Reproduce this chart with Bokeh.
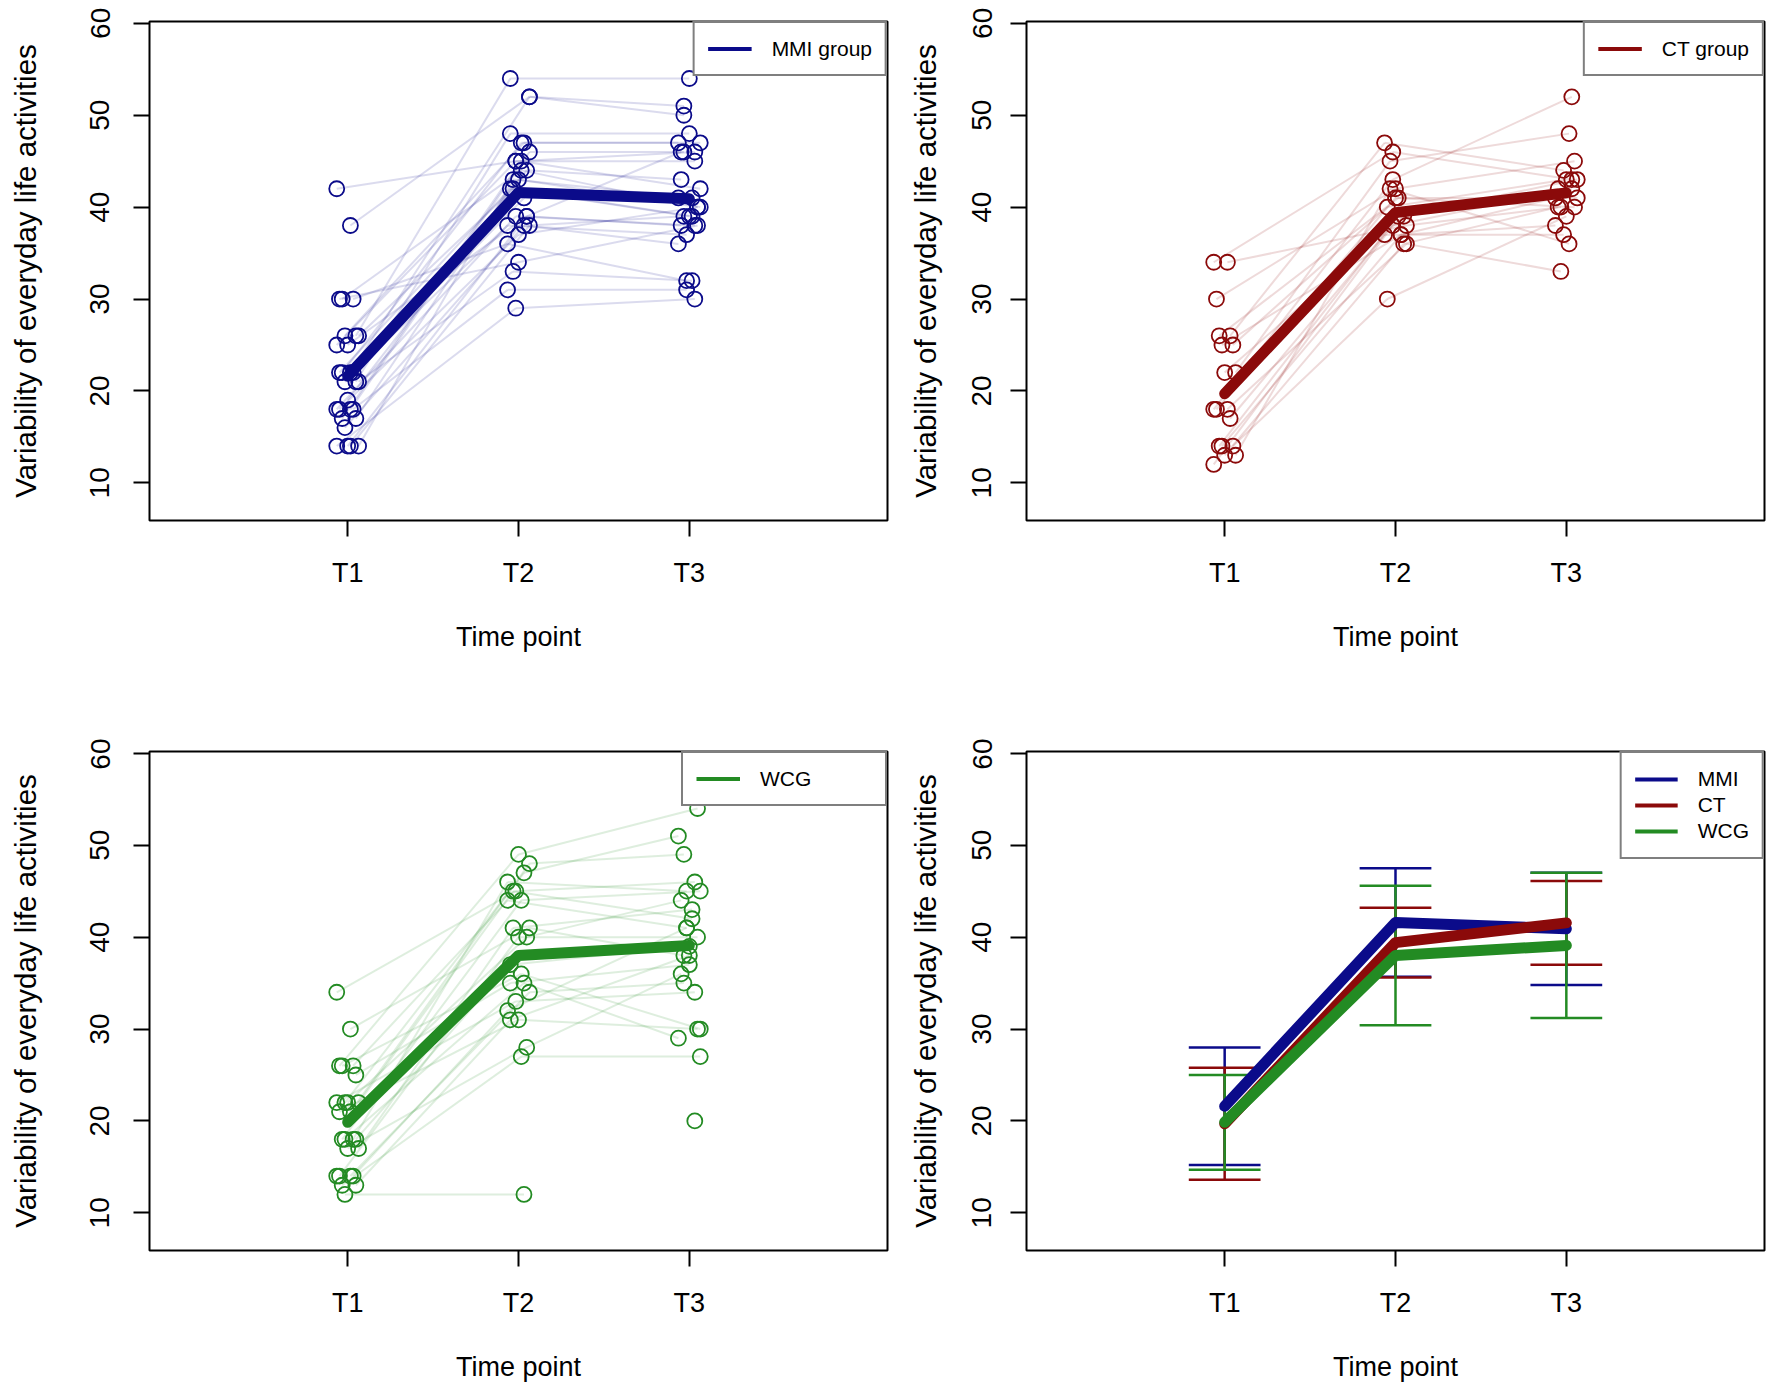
import math
from bokeh.plotting import figure
from bokeh.models import Range1d, FixedTicker, Legend, LegendItem
from bokeh.layouts import column, row
from bokeh.embed import file_html
from bokeh.resources import INLINE

nan = float("nan")

# ---------------- data ----------------
time_labels = ["T1", "T2", "T3"]
time_pos = [1, 2, 3]
y_ticks = [10, 20, 30, 40, 50, 60]

# MMI group, individual trajectories
mmi_t1 = [42, 38, 30, 30, 30, 26, 26, 26, 25, 25, 22, 22, 22, 22, 21, 21, 21, 19, 18, 18, 18, 18, 17, 17, 16, 14, 14, 14, 14]
mmi_t2 = [45, 52, 34, 36, 44, 54, 47, 42, 39, 45, 52, 43, 38, 47, 48, 41, 33, 44, 39, 46, 37, 31, 45, 42, 38, 43, 39, 29, 38]
mmi_t3 = [46, 51, 38, 32, 40, 54, 47, 39, 46, 45, 50, 40, 37, 47, 48, 41, 32, 43, 38, 46, 40, 31, 42, 39, 36, 41, 38, 30, 39]

# CT group
ct_t1 = [34, 34, 30, 26, 26, 25, 25, 22, 22, 18, 18, 18, 17, 14, 14, 14, 13, 13, 12]
ct_t2 = [46, 38, 42, 47, 41, 40, 37, 45, 39, 43, 36, 41, 37, 39, 30, 37, 42, 36, 38]
ct_t3 = [43, 40, 45, 44, 41, 43, 38, 48, 42, 52, 33, 40, 37, 43, 39, 41, 36, 40, 42]

# WCG group
wcg_t1 = [34, 30, 26, 26, 26, 25, 22, 22, 22, 22, 21, 21, 18, 18, 18, 18, 17, 17, 14, 14, 14, 14, 13, 13, 12]
wcg_t2 = [45, 41, 49, 44, 36, 35, 47, 45, 40, 33, 48, 31, 46, 44, 37, 35, 41, 28, nan, 34, 40, 32, 27, 31, 12]
wcg_t3 = [46, 38, 54, 41, 30, 37, 51, 42, 44, 34, 49, 30, 45, 45, 39, 29, 43, 36, 20, 35, 40, 41, 27, 38, nan]

# group means and standard deviations
mmi_mean = [21.6, 41.6, 40.9]
mmi_sd = [6.4, 5.9, 6.1]
ct_mean = [19.7, 39.4, 41.55]
ct_sd = [6.1, 3.8, 4.55]
wcg_mean = [19.85, 38.0, 39.1]
wcg_sd = [5.15, 7.6, 7.9]

group_names = ["MMI", "CT", "WCG"]
panel_legends = ["MMI group", "CT group", "WCG"]

# ---------------- style ----------------
C_MMI = "#0b0b8a"
C_CT = "#8b0a0a"
C_WCG = "#238b23"
FONT = "Liberation Sans"
LFS = "21px"


def jit(i, k):
    return (((i * 5 + k * 3) % 9) - 4) * 0.016


def make_fig(w, h, bl, br, bt, bb, ylab_standoff, ytitle_standoff):
    p = figure(width=w, height=h, x_range=Range1d(-0.16, 4.16), y_range=Range1d(5.9, 60.2),
               output_backend="svg", toolbar_location=None,
               min_border_left=bl, min_border_right=br, min_border_top=bt, min_border_bottom=bb)
    p.grid.visible = False
    p.background_fill_color = "white"
    p.border_fill_color = "white"
    p.outline_line_color = "black"
    p.outline_line_width = 2
    p.xaxis.ticker = FixedTicker(ticks=time_pos)
    p.xaxis.major_label_overrides = {t: l for t, l in zip(time_pos, time_labels)}
    p.yaxis.ticker = FixedTicker(ticks=y_ticks)
    p.yaxis.major_label_orientation = "vertical"
    p.xaxis.axis_label = "Time point"
    p.yaxis.axis_label = "Variability of everyday life activities"
    for ax in (p.xaxis[0], p.yaxis[0]):
        ax.axis_line_color = None
        ax.major_tick_out = 16
        ax.major_tick_in = 0
        ax.major_tick_line_width = 2
        ax.major_tick_line_color = "black"
        ax.minor_tick_line_color = None
        ax.major_label_text_font = FONT
        ax.major_label_text_color = "black"
        ax.axis_label_text_font = FONT
        ax.axis_label_text_font_style = "normal"
        ax.axis_label_text_color = "black"
    p.xaxis.major_label_text_font_size = "27px"
    p.xaxis.axis_label_text_font_size = "27px"
    p.yaxis.major_label_text_font_size = "28px"
    p.yaxis.axis_label_text_font_size = "29.5px"
    p.xaxis.major_label_standoff = 21
    p.xaxis.axis_label_standoff = 31
    p.yaxis.major_label_standoff = ylab_standoff
    p.yaxis.axis_label_standoff = ytitle_standoff
    return p


def add_legend(p, labels, colors, glyph_w, padding, label_h, standoff, label_w=20):
    items = []
    for lab, col in zip(labels, colors):
        r = p.line([-100, -99], [-100, -100], line_color=col, line_width=4)
        items.append(LegendItem(label=lab, renderers=[r]))
    leg = Legend(items=items, location="top_right", margin=0, padding=padding,
                 spacing=0, glyph_width=glyph_w, glyph_height=label_h, label_height=label_h,
                 label_width=label_w, label_standoff=standoff,
                 label_text_font=FONT, label_text_font_size=LFS, label_text_color="black",
                 border_line_color="black", border_line_width=2,
                 background_fill_color="white", background_fill_alpha=1.0)
    p.add_layout(leg)


def draw_group(p, t1, t2, t3, mean, color):
    vals = [t1, t2, t3]
    x0, y0, x1, y1, px, py = [], [], [], [], [], []
    for i in range(len(t1)):
        pts = [(time_pos[k] + jit(i, k), vals[k][i]) for k in range(3)]
        for k in range(2):
            a, b = pts[k], pts[k + 1]
            if not (math.isnan(a[1]) or math.isnan(b[1])):
                x0.append(a[0]); y0.append(a[1]); x1.append(b[0]); y1.append(b[1])
        for x, y in pts:
            if not math.isnan(y):
                px.append(x); py.append(y)
    p.segment(x0, y0, x1, y1, line_color=color, line_alpha=0.15, line_width=2)
    p.scatter(px, py, marker="circle", size=15, fill_color=None, line_color=color, line_width=1.8)
    p.line(time_pos, mean, line_color=color, line_width=11, line_cap="round", line_join="round")


p1 = make_fig(889, 738, 149, 2, 21, 218, 24, 46)
draw_group(p1, mmi_t1, mmi_t2, mmi_t3, mmi_mean, C_MMI)
add_legend(p1, [panel_legends[0]], [C_MMI], 44, 13, 25, 20)

p2 = make_fig(877, 738, 137, 2, 21, 218, 19, 28)
draw_group(p2, ct_t1, ct_t2, ct_t3, ct_mean, C_CT)
add_legend(p2, [panel_legends[1]], [C_CT], 44, 13, 25, 20)

p3 = make_fig(889, 647, 149, 2, 13, 135, 24, 46)
draw_group(p3, wcg_t1, wcg_t2, wcg_t3, wcg_mean, C_WCG)
add_legend(p3, [panel_legends[2]], [C_WCG], 44, 13, 25, 20, label_w=112)

p4 = make_fig(877, 647, 137, 2, 13, 135, 19, 28)
cap = 0.21
for mean, sd, col in [(mmi_mean, mmi_sd, C_MMI), (ct_mean, ct_sd, C_CT), (wcg_mean, wcg_sd, C_WCG)]:
    lo = [m - s for m, s in zip(mean, sd)]
    hi = [m + s for m, s in zip(mean, sd)]
    p4.segment(time_pos, lo, time_pos, hi, line_color=col, line_width=2.5)
    p4.segment([t - cap for t in time_pos], hi, [t + cap for t in time_pos], hi, line_color=col, line_width=2.5)
    p4.segment([t - cap for t in time_pos], lo, [t + cap for t in time_pos], lo, line_color=col, line_width=2.5)
for mean, col in [(mmi_mean, C_MMI), (ct_mean, C_CT), (wcg_mean, C_WCG)]:
    p4.line(time_pos, mean, line_color=col, line_width=11, line_cap="round", line_join="round")
add_legend(p4, group_names, [C_MMI, C_CT, C_WCG], 43, 13, 26, 20)

layout = column(row(p1, p2), row(p3, p4))
open("out.html", "w").write(file_html(layout, INLINE))
